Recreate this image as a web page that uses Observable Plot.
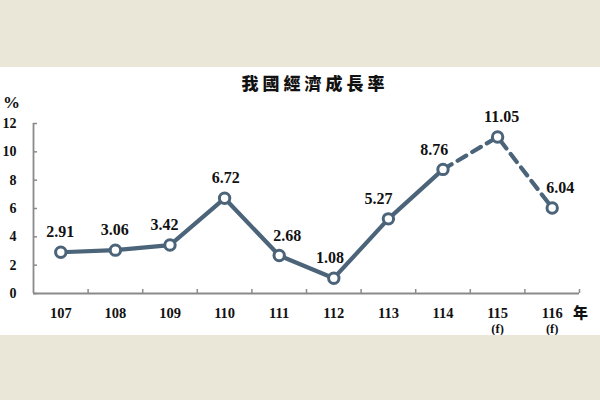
<!DOCTYPE html>
<html>
<head>
<meta charset="utf-8">
<script src="https://cdn.jsdelivr.net/npm/d3@7"></script>
<script src="https://cdn.jsdelivr.net/npm/@observablehq/plot@0.6"></script>
<style>
  html, body { margin: 0; padding: 0; background: #ebe7d8; }
  #wrap { width: 600px; height: 400px; position: relative; overflow: hidden; }
  #band-top { height: 67px; background: #ebe7d8; }
  #white { position: relative; height: 268px; background: #ffffff; overflow: hidden; }
  #title { position: absolute; left: 0; top: 0; width: 600px; height: 32px; line-height: 32px;
    text-align: center; padding-left: 30px; box-sizing: border-box;
    font-family: "Noto Sans CJK TC", "Noto Sans CJK SC", sans-serif; font-weight: 900;
    font-size: 17px; letter-spacing: 4px; color: #111; z-index: 2; }
  #chart { position: absolute; left: 0; top: 26px; }
  #band-bottom { height: 65px; background: #ebe7d8; }
</style>
</head>
<body>
<div id="wrap">
  <div id="band-top"></div>
  <div id="white">
    <div id="title"></div>
    <div id="chart"></div>
  </div>
  <div id="band-bottom"></div>
</div>
<script>
const titleText = "我國經濟成長率";
const years = [107, 108, 109, 110, 111, 112, 113, 114, 115, 116];
const growth = [2.91, 3.06, 3.42, 6.72, 2.68, 1.08, 5.27, 8.76, 11.05, 6.04];
const forecast = [false, false, false, false, false, false, false, false, true, true];
const yTicks = [0, 2, 4, 6, 8, 10, 12];
const yUnit = "%";
const xUnit = "年";
const forecastTag = "(f)";

document.getElementById("title").textContent = titleText;

const data = years.map((y, i) => ({year: y, value: growth[i], f: forecast[i], i}));
const actual = data.filter(d => !d.f);
const projected = data.filter((d, i) => d.f || (i + 1 < data.length && data[i + 1].f));
const xDomain = [years[0] - 0.5, years[years.length - 1] + 0.5];
const boundaries = years.map(y => y + 0.5);

const W = 600, H = 242, mL = 33, mR = 21, mT = 30, mB = 42;
const lineColor = "#4b6479";
const axisColor = "#8a8a8a";
const serif = "'Liberation Serif', 'Times New Roman', serif";

// nudge each value label away from the line, based on the local slope
function labelDx(i) {
  const s = [];
  if (i > 0) s.push(growth[i] - growth[i - 1]);
  if (i < growth.length - 1) s.push(growth[i + 1] - growth[i]);
  const avg = s.reduce((a, b) => a + b, 0) / s.length;
  return Math.max(-10, Math.min(8, -3 * avg));
}

const valueLabels = data.map(d =>
  Plot.text([d], {x: "year", y: "value", text: d => d.value.toFixed(2), dy: -20, dx: labelDx(d.i),
    fontSize: 16, fontWeight: "bold", fill: "#111"})
);

const chart = Plot.plot({
  width: W, height: H,
  marginLeft: mL, marginRight: mR, marginTop: mT, marginBottom: mB,
  x: {type: "linear", domain: xDomain, axis: null},
  y: {domain: [0, 12], axis: null},
  style: {fontFamily: serif, background: "transparent"},
  marks: [
    Plot.ruleX([xDomain[0]], {stroke: axisColor, strokeWidth: 1.8}),
    Plot.ruleY([0], {stroke: axisColor, strokeWidth: 1.8}),
    Plot.ruleY(yTicks, {stroke: axisColor, strokeWidth: 1.5, insetRight: W - mL - mR - 4}),
    Plot.ruleX(boundaries, {stroke: axisColor, strokeWidth: 1.5, insetTop: H - mT - mB - 4}),
    Plot.text(yTicks, {x: xDomain[0], y: d => d, text: d => String(d), textAnchor: "end", dx: -17,
      fontSize: 14, fontWeight: "bold", fill: "#111"}),
    Plot.text([yUnit], {x: xDomain[0], y: 12, text: d => d, dx: -22, dy: -21,
      fontSize: 17, fontWeight: "bold", fill: "#111"}),
    Plot.text(data, {x: "year", y: 0, text: d => String(d.year), dy: 20,
      fontSize: 14.5, fontWeight: "bold", fill: "#111"}),
    Plot.text(data.filter(d => d.f), {x: "year", y: 0, text: () => forecastTag, dy: 35,
      fontSize: 12.5, fontWeight: "bold", fill: "#111"}),
    Plot.text([xUnit], {x: xDomain[1], y: 0, text: d => d, dy: 20, dx: 1,
      fontSize: 15, fontWeight: "900", fill: "#111",
      fontFamily: "'Noto Sans CJK TC', sans-serif"}),
    Plot.line(actual, {x: "year", y: "value", stroke: lineColor, strokeWidth: 4.2}),
    Plot.line(projected, {x: "year", y: "value", stroke: lineColor, strokeWidth: 4.2,
      strokeDasharray: "10,7"}),
    Plot.dot(data, {x: "year", y: "value", r: 5.2, fill: "white", stroke: lineColor, strokeWidth: 3}),
    ...valueLabels
  ]
});
document.getElementById("chart").appendChild(chart);
</script>
</body>
</html>
